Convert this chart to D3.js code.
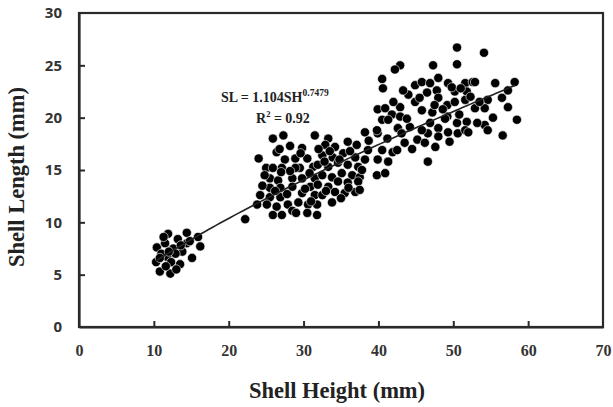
<!DOCTYPE html>
<html><head><meta charset="utf-8">
<script src="https://cdn.jsdelivr.net/npm/d3@7"></script>
<style>
html,body{margin:0;padding:0;background:#fff;}
svg{display:block;}
</style>
</head><body>
<div id="chart"></div>
<script>
// Shell height (mm)
const shellHeight = [
 11.9,14.4,15.9,16.2,15.1,10.3,10.8,12.2,13.5,11.8,12.6,10.4,14.4,11.0,11.5,12.3,13.2,13.8,12.9,10.8,11.6,14.8,13.0,12.0,11.3,13.6,
 22.2,
 25.9,27.3,28.2,31.5,24.0,26.4,25.0,27.5,28.9,30.5,25.9,27.1,29.5,31.3,25.5,26.6,28.5,29.8,31.5,25.5,26.9,28.5,30.9,24.2,25.5,26.9,29.8,31.5,23.8,25.1,26.4,27.9,29.3,30.6,31.8,25.9,27.1,28.5,30.5,31.8,29.8,28.9,
 33.3,38.2,39.9,40.5,41.8,42.6,32.9,34.2,35.9,37.1,38.6,40.5,41.9,32.5,33.9,35.3,36.9,38.2,39.9,41.3,31.9,33.3,34.6,35.9,37.3,39.8,40.9,32.5,33.8,35.1,36.5,37.5,31.9,33.3,34.6,35.9,37.3,32.5,34.2,35.5,36.9,33.8,37.5,
 27.8,28.2,30.2,29.0,26.2,24.8,33.0,34.8,36.2,37.8,38.7,30.8,33.5,35.0,26.8,24.5,31.0,32.0,27.0,29.6,32.8,36.0,
 50.5,50.5,42.9,47.3,44.9,45.8,46.9,48.0,49.3,51.6,52.6,46.5,47.8,48.0,50.2,51.8,44.9,45.8,47.2,49.2,50.2,51.6,42.9,42.9,44.2,46.9,48.0,49.2,50.5,51.8,42.6,43.1,46.6,48.0,49.3,50.6,51.6,43.5,45.2,47.6,42.5,46.6,
 54.1,52.9,55.6,58.2,57.3,56.5,54.6,57.3,52.9,54.2,55.3,58.5,54.2,54.6,52.0,56.6,
 42.2,40.5,40.6,39.9,40.9,42.0,39.8,41.3,
 44.0,45.5,43.8,47.5,49.8,52.3,53.5,48.6,50.8,45.8,44.5,41.2,43.3,53.2,49.5,51.0,46.2,48.9
];
// Shell length (mm)
const shellLength = [
 8.9,9.0,8.6,7.7,6.6,6.2,5.3,5.1,6.0,6.7,7.5,7.6,8.0,7.0,8.0,6.2,8.4,7.2,7.0,6.6,5.8,8.2,5.5,7.2,8.6,7.8,
 10.3,
 18.0,18.3,17.3,18.3,16.1,16.7,15.2,16.0,16.1,16.1,15.2,15.2,15.2,15.3,14.2,14.0,14.2,14.2,14.2,13.3,13.3,13.4,13.4,12.6,12.4,12.4,12.8,12.6,11.7,11.7,11.5,11.7,11.9,11.7,11.7,10.7,10.7,11.1,10.9,10.7,17.1,15.2,
 18.0,18.6,18.5,19.8,20.3,19.0,17.4,17.2,17.7,17.4,16.9,16.9,16.7,16.4,16.2,16.6,16.2,16.0,16.0,15.8,15.5,15.3,15.7,15.5,15.3,14.5,14.7,14.5,14.3,14.7,14.5,14.3,13.6,13.4,13.9,13.8,13.9,12.6,12.9,12.8,12.9,11.9,13.1,
 12.7,14.9,13.2,10.9,13.0,14.5,13.0,16.0,16.8,15.0,17.8,14.7,16.8,12.3,17.0,13.5,12.0,17.0,14.8,16.6,15.8,13.3,
 26.7,25.1,25.0,25.0,23.1,23.4,23.3,23.8,23.3,23.3,23.4,22.4,22.6,21.9,22.5,22.5,21.5,20.7,20.5,21.2,21.5,21.7,21.0,20.1,19.1,19.5,19.0,20.1,19.5,19.6,19.0,18.5,18.5,18.2,18.6,18.5,18.8,17.6,17.9,17.2,16.9,15.8,
 26.2,23.4,23.3,23.4,22.6,21.9,21.7,21.0,20.9,20.9,20.0,19.8,19.3,18.8,18.6,18.3,
 24.6,23.7,22.8,20.8,20.9,21.5,18.8,19.8,
 22.2,21.9,19.9,21.2,22.9,22.0,21.5,20.8,20.3,18.8,17.0,18.0,22.6,19.5,17.7,22.8,17.6,19.9
];
const xTicks = [0,10,20,30,40,50,60,70];
const yTicks = [0,5,10,15,20,25,30];
const fitA = 1.104, fitB = 0.7479, r2 = "0.92";
const xLabel = "Shell Height (mm)";
const yLabel = "Shell Length (mm)";

const W = 613, H = 407;
const svg = d3.select("#chart").append("svg").attr("width",W).attr("height",H);
const x = d3.scaleLinear().domain([0,70]).range([79,603]);
const y = d3.scaleLinear().domain([0,30]).range([327,13]);
const axisCol = "#2a2a2a";

// frame
svg.append("rect").attr("x",x(0)).attr("y",y(30)).attr("width",x(70)-x(0)).attr("height",y(0)-y(30))
  .attr("fill","none").attr("stroke",axisCol).attr("stroke-width",2.2);

// x axis (ticks inward)
const gx = svg.append("g").attr("transform",`translate(0,${y(0)})`)
  .call(d3.axisBottom(x).tickValues(xTicks).tickSizeInner(-6).tickSizeOuter(0).tickPadding(18));
gx.select(".domain").attr("stroke",axisCol).attr("stroke-width",2.2);
gx.selectAll(".tick line").attr("stroke",axisCol).attr("stroke-width",2);
gx.selectAll(".tick text").attr("font-family","'Liberation Serif', 'Times New Roman', serif")
  .attr("font-weight","bold").attr("font-size",16).attr("fill","#333");
gx.selectAll(".tick").filter(d=>d===0||d===70).select("line").remove();

// y axis
const gy = svg.append("g").attr("transform",`translate(${x(0)},0)`)
  .call(d3.axisLeft(y).tickValues(yTicks).tickSizeInner(-6).tickSizeOuter(0).tickPadding(17));
gy.select(".domain").attr("stroke",axisCol).attr("stroke-width",2.2);
gy.selectAll(".tick line").attr("stroke",axisCol).attr("stroke-width",2);
gy.selectAll(".tick text").attr("font-family","'Open Sans', 'DejaVu Sans', sans-serif")
  .attr("font-weight","bold").attr("font-size",15).attr("fill","#333");
gy.selectAll(".tick").filter(d=>d===0||d===30).select("line").remove();

// points
const pts = shellHeight.map((h,i)=>({h, l: shellLength[i]}));
svg.append("g").selectAll("circle").data(pts).join("circle")
  .attr("cx",d=>x(d.h)).attr("cy",d=>y(d.l)).attr("r",4.6)
  .attr("fill","#000").attr("stroke","#fff").attr("stroke-width",0.6);

// fitted power curve from the stated equation
const xmin = d3.min(shellHeight), xmax = d3.max(shellHeight);
const curve = d3.range(xmin, xmax+0.01, 0.5).map(v=>[v, fitA*Math.pow(v,fitB)]);
svg.append("path").datum(curve)
  .attr("d", d3.line().x(d=>x(d[0])).y(d=>y(d[1])))
  .attr("fill","none").attr("stroke","#222").attr("stroke-width",1.6);

// equation text
const ser = "'Liberation Serif', 'Times New Roman', serif";
const eq = svg.append("text").attr("x",221).attr("y",102)
  .attr("font-family",ser).attr("font-weight","bold").attr("font-size",14).attr("fill","#222");
eq.append("tspan").text(`SL = ${fitA}SH`);
eq.append("tspan").attr("dy",-6).attr("font-size",9.5).text(String(fitB));
const r = svg.append("text").attr("x",256).attr("y",123)
  .attr("font-family",ser).attr("font-weight","bold").attr("font-size",14).attr("fill","#222");
r.append("tspan").text("R");
r.append("tspan").attr("dy",-6).attr("font-size",8.5).text("2");
r.append("tspan").attr("dy",6).text(` = ${r2}`);

// axis titles
svg.append("text").attr("x",337).attr("y",398).attr("text-anchor","middle")
  .attr("font-family",ser).attr("font-weight","bold").attr("font-size",22.5).attr("fill","#222").text(xLabel);
svg.append("text").attr("transform",`translate(24,${177}) rotate(-90)`).attr("text-anchor","middle")
  .attr("font-family",ser).attr("font-weight","bold").attr("font-size",22.5).attr("fill","#222").text(yLabel);
</script>
</body></html>
